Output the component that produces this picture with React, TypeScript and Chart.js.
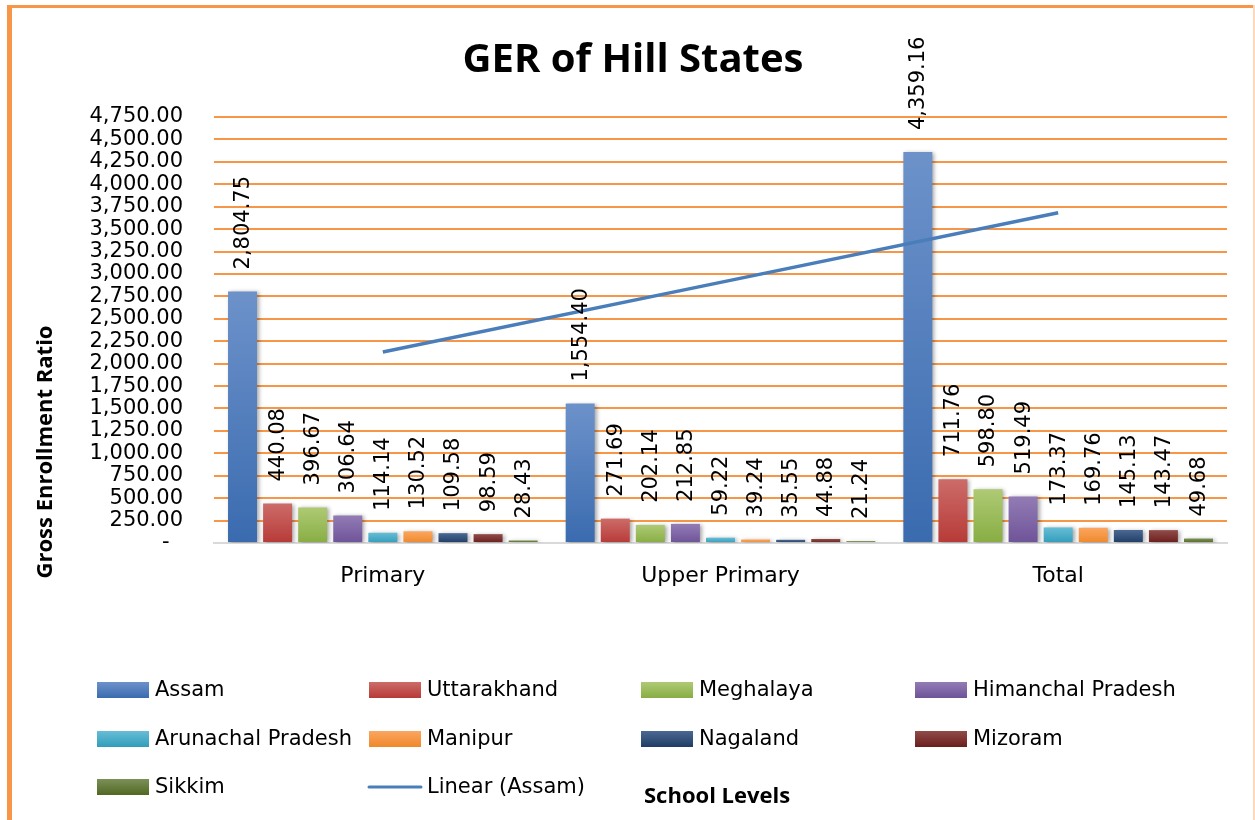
import React, { useEffect, useRef } from 'react';
import { Chart, registerables } from 'chart.js';
Chart.register(...registerables);

const categories = ['Primary', 'Upper Primary', 'Total'];
const states = ['Assam', 'Uttarakhand', 'Meghalaya', 'Himanchal Pradesh', 'Arunachal Pradesh', 'Manipur', 'Nagaland', 'Mizoram', 'Sikkim'];
const assam = [2804.75, 1554.4, 4359.16];
const uttarakhand = [440.08, 271.69, 711.76];
const meghalaya = [396.67, 202.14, 598.8];
const himanchal = [306.64, 212.85, 519.49];
const arunachal = [114.14, 59.22, 173.37];
const manipur = [130.52, 39.24, 169.76];
const nagaland = [109.58, 35.55, 145.13];
const mizoram = [98.59, 44.88, 143.47];
const sikkim = [28.43, 21.24, 49.68];
const linearAssam = [2128.9, 2906.1, 3683.3];
const trendLabel = 'Linear (Assam)';
const yMax = 4750;
const yStep = 250;
const chartTitle = 'GER of Hill States';
const yTitle = 'Gross Enrollment Ratio';
const xTitle = 'School Levels';

const seriesValues = [assam, uttarakhand, meghalaya, himanchal, arunachal, manipur, nagaland, mizoram, sikkim];
const topColors = ['#6D92CA', '#CC6C69', '#AECA74', '#937CB5', '#67BDD5', '#FBA660', '#4B6893', '#904C4A', '#7C9057'];
const bottomColors = ['#3A6BAF', '#B73A37', '#88AD43', '#6E5398', '#319DBB', '#EF882B', '#1F3D64', '#6A1E1C', '#516823'];
const lineColor = '#4A7EBB';
const gridColor = '#F79646';
const LABEL_FONT = '"DejaVu Sans", sans-serif';
const BOLD_FONT = '"Open Sans", sans-serif';

const fmt = (v: number) => v.toLocaleString('en-US', { minimumFractionDigits: 2, maximumFractionDigits: 2 });

const decor = {
  id: 'decor',
  beforeDraw(chart: any) {
    const ctx = chart.ctx;
    ctx.save();
    ctx.fillStyle = '#fff';
    ctx.fillRect(0, 0, chart.width, chart.height);
    ctx.fillStyle = '#F79646';
    ctx.fillRect(7, 5, 5, chart.height - 5);
    ctx.fillRect(7, 5, chart.width - 9, 3);
    ctx.fillStyle = '#FCD9BD';
    ctx.fillRect(chart.width - 2, 5, 2, chart.height - 5);
    ctx.restore();
  },
  beforeDatasetDraw(chart: any, args: any) {
    if (args.meta.type === 'bar') {
      const ctx = chart.ctx;
      ctx.save();
      ctx.shadowColor = 'rgba(0,0,0,0.35)';
      ctx.shadowBlur = 4;
      ctx.shadowOffsetX = 2;
      ctx.shadowOffsetY = 1;
    }
  },
  afterDatasetDraw(chart: any, args: any) {
    if (args.meta.type === 'bar') chart.ctx.restore();
  },
  afterDatasetsDraw(chart: any) {
    const ctx = chart.ctx;
    ctx.save();
    ctx.fillStyle = '#000';
    ctx.font = `21px ${LABEL_FONT}`;
    ctx.textAlign = 'left';
    ctx.textBaseline = 'middle';
    chart.data.datasets.forEach((ds: any, i: number) => {
      const meta = chart.getDatasetMeta(i);
      if (meta.type !== 'bar') return;
      meta.data.forEach((el: any, j: number) => {
        ctx.save();
        ctx.translate(el.x + 1, el.y - 22);
        ctx.rotate(-Math.PI / 2);
        ctx.fillText(fmt(ds.data[j]), 0, 0);
        ctx.restore();
      });
    });
    ctx.restore();
  },
  afterDraw(chart: any) {
    const ctx = chart.ctx;
    ctx.save();
    ctx.fillStyle = '#000';
    // title
    ctx.font = `bold 40px ${BOLD_FONT}`;
    ctx.textAlign = 'center';
    ctx.textBaseline = 'alphabetic';
    ctx.fillText(chartTitle, 633, 72);
    // y title
    ctx.save();
    ctx.translate(52, 452);
    ctx.rotate(-Math.PI / 2);
    ctx.font = `bold 22px ${BOLD_FONT}`;
    ctx.fillText(yTitle, 0, 0);
    ctx.restore();
    // x title
    ctx.font = `bold 22px ${BOLD_FONT}`;
    ctx.textAlign = 'left';
    ctx.fillText(xTitle, 644, 803);
    // legend
    const colX = [97, 369, 641, 915];
    const rowY = [690, 739, 787];
    const boxW = 52;
    const boxH = 16;
    ctx.font = `21px ${LABEL_FONT}`;
    ctx.textBaseline = 'middle';
    chart.data.datasets.forEach((ds: any, i: number) => {
      const x = colX[i % 4];
      const y = rowY[Math.floor(i / 4)];
      if (ds.type === 'line') {
        ctx.strokeStyle = lineColor;
        ctx.lineWidth = 3;
        ctx.lineCap = 'round';
        ctx.beginPath();
        ctx.moveTo(x, y);
        ctx.lineTo(x + boxW, y);
        ctx.stroke();
      } else {
        const g = ctx.createLinearGradient(0, y - boxH / 2, 0, y + boxH / 2);
        g.addColorStop(0, topColors[i]);
        g.addColorStop(1, bottomColors[i]);
        ctx.fillStyle = g;
        ctx.fillRect(x, y - boxH / 2, boxW, boxH);
      }
      ctx.fillStyle = '#000';
      ctx.fillText(ds.label, x + boxW + 6, y + 1);
    });
    ctx.restore();
  },
};

export default function App() {
  const ref = useRef<HTMLCanvasElement>(null);
  useEffect(() => {
    if (!ref.current) return;
    const barSets = states.map((name, i) => ({
      type: 'bar' as const,
      label: name,
      data: seriesValues[i],
      order: 1,
      backgroundColor: (c: any) => {
        const chart = c.chart;
        const y = chart.scales && chart.scales.y;
        if (!chart.chartArea || !y || c.raw === undefined) return topColors[i];
        const top = y.getPixelForValue(c.raw);
        const bottom = y.getPixelForValue(0);
        if (!isFinite(top) || !isFinite(bottom) || bottom - top < 1) return bottomColors[i];
        const g = chart.ctx.createLinearGradient(0, top, 0, bottom);
        g.addColorStop(0, topColors[i]);
        g.addColorStop(1, bottomColors[i]);
        return g;
      },
      borderWidth: 0,
      categoryPercentage: 0.935,
      barPercentage: 0.826,
    }));
    const chart = new Chart(ref.current, {
      data: {
        labels: categories,
        datasets: [
          ...barSets,
          {
            type: 'line' as const,
            label: trendLabel,
            data: linearAssam,
            order: 0,
            borderColor: lineColor,
            borderWidth: 3.5,
            pointRadius: 0,
            fill: false,
            tension: 0,
          },
        ] as any,
      },
      options: {
        responsive: false,
        animation: false,
        devicePixelRatio: 1,
        layout: { padding: { top: 117, right: 28, bottom: 217, left: 0 } },
        plugins: { legend: { display: false }, title: { display: false }, tooltip: { enabled: false } },
        scales: {
          x: {
            grid: { display: false, drawTicks: false },
            border: { display: true, color: '#D9D9D9', width: 2 },
            ticks: { font: { family: LABEL_FONT, size: 22 }, color: '#000', padding: 20 },
            afterFit: (s: any) => { s.height = 60; },
          },
          y: {
            min: 0,
            max: yMax,
            grid: {
              drawTicks: false,
              lineWidth: 2,
              color: (c: any) => (c.tick && c.tick.value === 0 ? 'rgba(0,0,0,0)' : gridColor),
            },
            border: { display: false },
            ticks: {
              stepSize: yStep,
              font: { family: LABEL_FONT, size: 21 },
              color: '#000',
              padding: 31,
              autoSkip: false,
              callback: (v: any) => (v === 0 ? '-  ' : fmt(Number(v))),
            },
            afterFit: (s: any) => { s.width = 214; },
          },
        },
      },
      plugins: [decor],
    });
    return () => chart.destroy();
  }, []);
  return (
    <div style={{ position: 'fixed', left: 0, top: 0, width: 1255, height: 820, background: '#fff' }}>
      <canvas ref={ref} width={1255} height={820} style={{ display: 'block' }} />
    </div>
  );
}
